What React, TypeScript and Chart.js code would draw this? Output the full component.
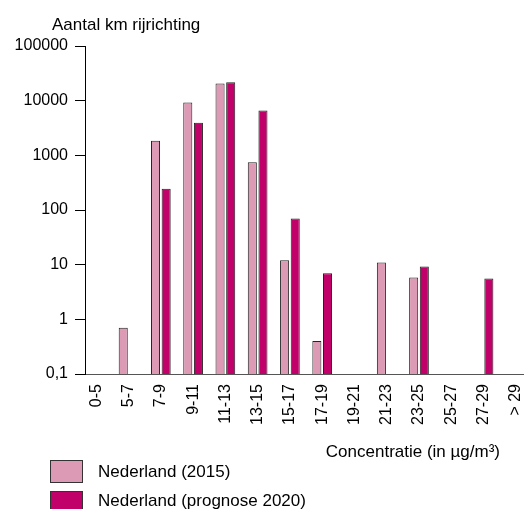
import React, { useEffect, useRef } from "react";
import { Chart, registerables } from "chart.js";

Chart.register(...registerables);

const categories = ["0-5", "5-7", "7-9", "9-11", "11-13", "13-15", "15-17", "17-19", "19-21", "21-23", "23-25", "25-27", "27-29", "> 29"];
const values2015: (number | null)[] = [null, 0.7, 1850, 9300, 20500, 750, 12, 0.4, null, 11, 5.8, null, null, null];
const values2020: (number | null)[] = [null, null, 245, 3950, 21800, 6600, 70, 7, null, null, 9.3, null, 5.6, null];
const yTickValues = [0.1, 1, 10, 100, 1000, 10000, 100000];
const yTickLabels = ["0,1", "1", "10", "100", "1000", "10000", "100000"];
const seriesNames = ["Nederland (2015)", "Nederland (prognose 2020)"];
const seriesColors = ["#DC9AB5", "#C1006A"];
const yTitle = "Aantal km rijrichting";
const xTitle = "Concentratie (in µg/m³)";

const FONT = "'Liberation Sans', Arial, sans-serif";

export default function App() {
  const ref = useRef<HTMLCanvasElement>(null);
  useEffect(() => {
    if (!ref.current) return;
    const chart = new Chart(ref.current, {
      type: "bar",
      data: {
        datasets: [values2015, values2020].map((vals, s) => ({
          label: seriesNames[s],
          data: categories.map((_, i) => ({ x: i, y: vals[i] })),
          backgroundColor: seriesColors[s],
          borderColor: "#222",
          borderWidth: 1,
          borderSkipped: "start",
          categoryPercentage: 0.66,
          barPercentage: 0.85,
        })) as any,
      },
      options: {
        animation: false,
        responsive: false,
        devicePixelRatio: 1,
        layout: { padding: { top: 46, left: 0, right: 0, bottom: 0 } },
        plugins: { legend: { display: false }, tooltip: { enabled: false } },
        scales: {
          x: {
            type: "linear",
            min: -0.35,
            max: 13.5,
            offset: false,
            afterBuildTicks: (scale: any) => {
              scale.ticks = categories.map((_, i) => ({ value: i }));
            },
            afterFit: (scale: any) => {
              scale.height = 135;
            },
            grid: { display: false, drawTicks: false },
            border: { display: true, color: "#555", width: 1 },
            ticks: {
              autoSkip: false,
              minRotation: 90,
              maxRotation: 90,
              padding: 10,
              color: "#000",
              font: { family: FONT, size: 16 },
              callback: (v: any) => categories[v] ?? "",
            },
          },
          y: {
            type: "logarithmic",
            min: 0.1,
            max: 100000,
            afterBuildTicks: (scale: any) => {
              scale.ticks = yTickValues.map((v) => ({ value: v, major: true }));
            },
            afterFit: (scale: any) => {
              scale.width = 85;
            },
            grid: { drawOnChartArea: false, drawTicks: true, tickLength: 10, color: "#000" },
            border: { display: true, color: "#000", width: 1 },
            ticks: {
              padding: 7,
              color: "#000",
              font: { family: FONT, size: 16 },
              callback: (v: any) => {
                const idx = yTickValues.indexOf(Number(v));
                return idx >= 0 ? yTickLabels[idx] : "";
              },
            },
          },
        },
      },
    });
    return () => chart.destroy();
  }, []);

  const textStyle: React.CSSProperties = {
    position: "absolute",
    fontFamily: FONT,
    fontSize: 17,
    lineHeight: "17px",
    color: "#000",
    whiteSpace: "nowrap",
  };
  const boxStyle = (c: string): React.CSSProperties => ({
    position: "absolute",
    left: 50,
    width: 31,
    height: 21,
    background: c,
    border: "1px solid #333",
  });

  return (
    <div style={{ position: "fixed", left: 0, top: 0, width: 524, height: 509, overflow: "hidden", background: "#fff" }}>
      <canvas ref={ref} width={545} height={509} style={{ position: "absolute", left: 0, top: 0 }} />
      <div style={{ ...textStyle, left: 52, top: 16 }}>{yTitle}</div>
      <div style={{ ...textStyle, right: 24, top: 443 }}>{xTitle}</div>
      <div style={{ ...boxStyle(seriesColors[0]), top: 460 }} />
      <div style={{ ...textStyle, left: 98, top: 463 }}>{seriesNames[0]}</div>
      <div style={{ ...boxStyle(seriesColors[1]), top: 491 }} />
      <div style={{ ...textStyle, left: 98, top: 492 }}>{seriesNames[1]}</div>
    </div>
  );
}
